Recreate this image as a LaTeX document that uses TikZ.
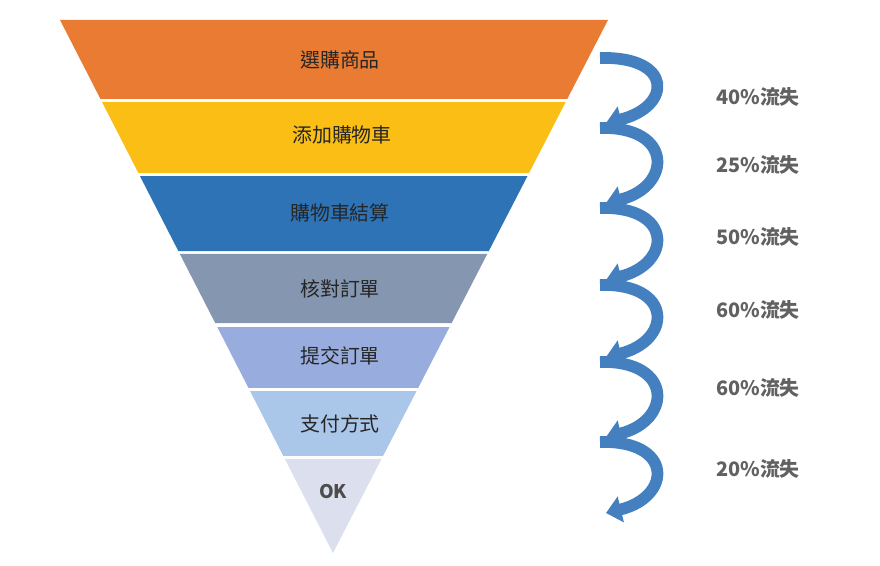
\documentclass[tikz,border=0pt]{standalone}
\usepackage{fontspec}
\setmainfont{Noto Sans CJK TC}
\usetikzlibrary{arrows.meta,calc}
\definecolor{bandA}{RGB}{233,124,50}
\definecolor{bandB}{RGB}{250,190,20}
\definecolor{bandC}{RGB}{46,115,182}
\definecolor{bandD}{RGB}{132,150,176}
\definecolor{bandE}{RGB}{152,172,222}
\definecolor{bandF}{RGB}{170,198,232}
\definecolor{bandG}{RGB}{220,224,238}
\definecolor{twist}{RGB}{68,128,192}
\tikzset{
  stage/.style={font=\fontsize{17}{20}\selectfont, text=black!85},
  loss/.style={font=\fontsize{17}{20}\selectfont\bfseries, text=black!62},
  spiral/.style={-{Triangle[width=22pt,length=13pt]}, line width=10pt, twist},
}

\begin{document}
\begin{tikzpicture}[x=0.03cm, y=-0.03cm]
        \useasboundingbox (0,0) rectangle (880,565);
        \coordinate (tl) at (60,20);
        \coordinate (tr) at (608,20);
        \coordinate (ap) at (333,553);

        % funnel bands
        \foreach \ta/\tb/\col in {0/0.1482/bandA, 0.1538/0.2871/bandB,
            0.2927/0.4334/bandC, 0.4390/0.5685/bandD,
            0.5760/0.6904/bandE, 0.6961/0.8180/bandF}
          \fill[\col] ($(tl)!\ta!(ap)$) -- ($(tr)!\ta!(ap)$)
            -- ($(tr)!\tb!(ap)$) -- ($(tl)!\tb!(ap)$) -- cycle;
        \fill[bandG] ($(tl)!0.8236!(ap)$) -- ($(tr)!0.8236!(ap)$) -- (ap) -- cycle;

        \node[stage] (s1) at (340,60)  {選購商品};
        \node[stage] (s2) at (342,135) {添加購物車};
        \node[stage] (s3) at (340,213) {購物車結算};
        \node[stage] (s4) at (340,289) {核對訂單};
        \node[stage] (s5) at (340,356) {提交訂單};
        \node[stage] (s6) at (340,424) {支付方式};
        \node[stage, text=black!70, font=\fontsize{16}{20}\selectfont\bfseries] (s7) at (333,492) {OK};

        % spiral arrows
        \foreach \s/\e [count=\i] in {58/123, 128/203, 208/280, 285/357, 362/437, 442/513} {
          \coordinate (t\i) at (600,\s);
          \coordinate (h\i) at (606,\e);
          \draw[spiral] (t\i) .. controls (674,\s-2) and (672,\e-16) .. (h\i);
        }

        \node[loss] (l1) at (758,97)  {40\%流失};
        \node[loss] (l2) at (758,165) {25\%流失};
        \node[loss] (l3) at (758,237) {50\%流失};
        \node[loss] (l4) at (758,310) {60\%流失};
        \node[loss] (l5) at (758,388) {60\%流失};
        \node[loss] (l6) at (758,469) {20\%流失};
      \end{tikzpicture}
\end{document}
